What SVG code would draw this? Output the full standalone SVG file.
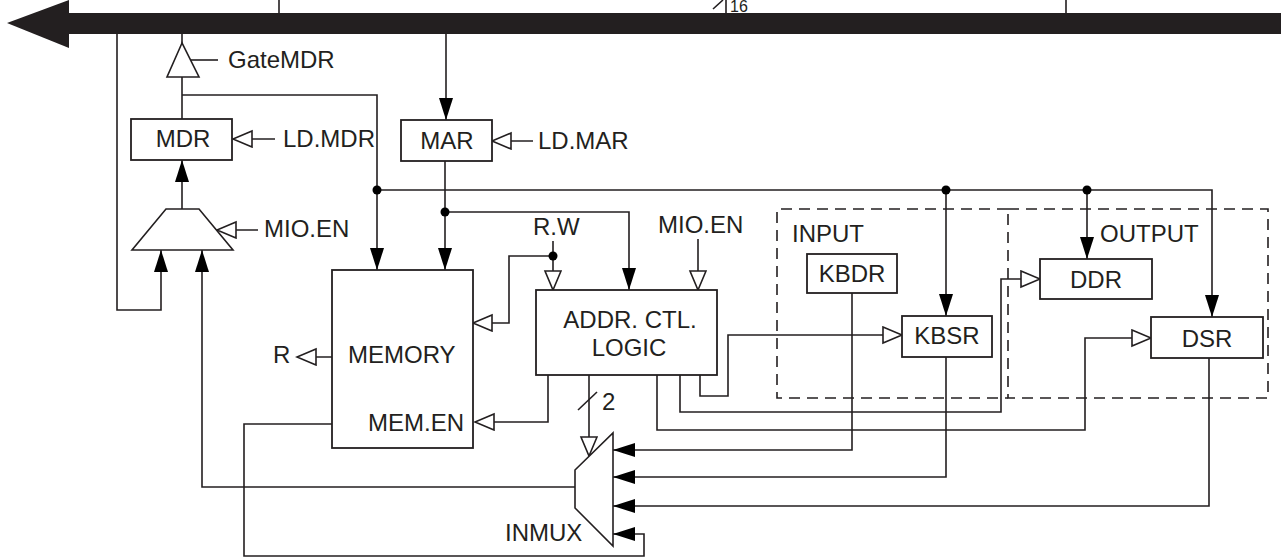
<svg xmlns="http://www.w3.org/2000/svg" width="1281" height="558" viewBox="0 0 1281 558">
<style>
.t{font-family:"Liberation Sans",Arial,Helvetica,sans-serif;font-size:24px;fill:#231f20}
.c{text-anchor:middle}
.w{fill:none;stroke:#231f20;stroke-width:1.6}
.box{fill:#fff;stroke:#231f20;stroke-width:1.8}
.dash{fill:none;stroke:#231f20;stroke-width:1.6;stroke-dasharray:11 7}
.fa{marker-end:url(#fa)}
.oa{marker-end:url(#oa)}
</style>
<defs>
<marker id="fa" markerWidth="22" markerHeight="14" refX="22" refY="7" orient="auto" markerUnits="userSpaceOnUse"><path d="M0,0 L22,7 L0,14 z" fill="#000"/></marker>
<marker id="oa" markerWidth="22" markerHeight="20" refX="20" refY="9" orient="auto" markerUnits="userSpaceOnUse"><path d="M1,1 L20,9 L1,17 z" fill="#fff" stroke="#231f20" stroke-width="1.6"/></marker>
</defs>
<rect width="1281" height="558" fill="#fff"/>

<g id="bus">
<rect x="66" y="13" width="1215" height="21" fill="#231f20"/>
<polygon points="7,23 69,0 69,48" fill="#231f20"/>
<path class="w" d="M279,0 V13 M726,0 V13 M1066,0 V13 M713,9 L723,0"/>
<text class="t" x="730" y="12" style="font-size:16px">16</text>
</g>

<g id="connectors">
<path class="w fa" d="M117,34 V310 H161 V250"/>
<path class="w" d="M182,34 V43"/>
<path class="w" d="M191,60 H218"/>
<path class="w" d="M182,77 V119"/>
<path class="w fa" d="M182,95 H377 V270"/>
<path class="w oa" d="M275,139 H233"/>
<path class="w fa" d="M182,209 V160"/>
<path class="w oa" d="M258,230 H217"/>
<path class="w fa" d="M575,487 H202 V250"/>
<path class="w fa" d="M446,34 V120"/>
<path class="w oa" d="M533,141 H492"/>
<path class="w fa" d="M445,161 V270"/>
<path class="w fa" d="M445,212 H629 V290"/>
<path class="w fa" d="M377,190 H1212 V317"/>
<path class="w fa" d="M946,190 V316"/>
<path class="w fa" d="M1087,190 V259"/>
<path class="w oa" d="M332,357 H297"/>
<path class="w oa" d="M553,241 V290"/>
<path class="w oa" d="M553,256 H509 V323 H473"/>
<path class="w oa" d="M698,239 V290"/>
<path class="w oa" d="M548,375 V422 H475"/>
<path class="w oa" d="M589,375 V456"/>
<path class="w" d="M578,410 L597,392"/>
<path class="w oa" d="M657,375 V430 H1085 V338 H1151"/>
<path class="w oa" d="M680,375 V412 H1001 V279 H1040"/>
<path class="w oa" d="M700,375 V396 H728 V335 H902"/>
<path class="w fa" d="M852,293 V450 H613"/>
<path class="w fa" d="M946,357 V477 H613"/>
<path class="w fa" d="M1209,358 V506 H613"/>
<path class="w fa" d="M332,424 H244 V556 H644 V534 H613"/>
<circle cx="377" cy="190" r="4.5" fill="#000"/>
<circle cx="445" cy="212" r="4.5" fill="#000"/>
<circle cx="946" cy="190" r="4.5" fill="#000"/>
<circle cx="1087" cy="190" r="4.5" fill="#000"/>
<circle cx="553" cy="256" r="4.5" fill="#000"/>
<text class="t" x="602" y="410">2</text>
</g>

<g id="gatemdr">
<polygon class="box" points="182,43 167,77 199,77" style="stroke-width:1.6"/>
<text class="t" x="228" y="68">GateMDR</text>
</g>
<g id="mdr">
<rect class="box" x="131" y="119" width="101" height="41"/>
<text class="t c" x="183" y="147">MDR</text>
<text class="t" x="283" y="147">LD.MDR</text>
</g>
<g id="mar">
<rect class="box" x="401" y="120" width="91" height="41"/>
<text class="t c" x="447" y="149">MAR</text>
<text class="t" x="538" y="149">LD.MAR</text>
</g>
<g id="miomux">
<polygon class="box" points="166,209 199,209 233,250 132,250" style="stroke-width:1.6"/>
<text class="t" x="264" y="237">MIO.EN</text>
</g>
<g id="memory">
<rect class="box" x="332" y="270" width="141" height="178"/>
<text class="t" x="348" y="363">MEMORY</text>
<text class="t" x="368" y="431">MEM.EN</text>
<text class="t" x="273" y="363">R</text>
</g>
<g id="addrctl">
<rect class="box" x="536" y="290" width="181" height="85"/>
<text class="t c" x="630" y="328">ADDR. CTL.</text>
<text class="t c" x="629" y="356">LOGIC</text>
<text class="t" x="533" y="235">R.W</text>
<text class="t" x="658" y="233">MIO.EN</text>
</g>
<g id="input">
<path class="dash" d="M1008,209 H777 V398 H1008"/>
<text class="t" x="792" y="242">INPUT</text>
</g>
<g id="output">
<rect class="dash" x="1008" y="209" width="260" height="189"/>
<text class="t" x="1100" y="242">OUTPUT</text>
</g>
<g id="kbdr">
<rect class="box" x="807" y="254" width="90" height="39"/>
<text class="t c" x="852" y="282">KBDR</text>
</g>
<g id="kbsr">
<rect class="box" x="902" y="316" width="90" height="41"/>
<text class="t c" x="947" y="344">KBSR</text>
</g>
<g id="ddr">
<rect class="box" x="1040" y="259" width="112" height="40"/>
<text class="t c" x="1096" y="288">DDR</text>
</g>
<g id="dsr">
<rect class="box" x="1151" y="317" width="112" height="41"/>
<text class="t c" x="1207" y="347">DSR</text>
</g>
<g id="inmux">
<polygon class="box" points="575,470 613,433 613,546 575,508" style="stroke-width:1.6"/>
<text class="t" x="505" y="541">INMUX</text>
</g>
</svg>
